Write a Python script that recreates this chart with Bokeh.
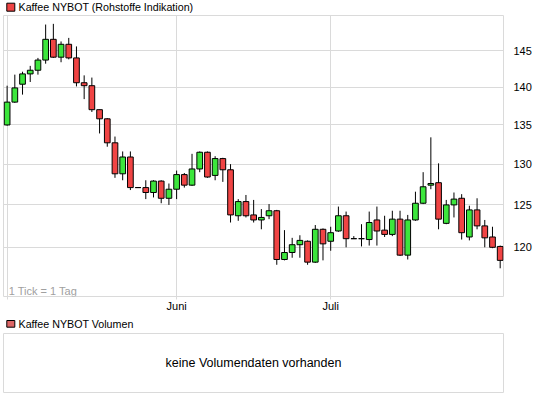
from bokeh.plotting import figure
from bokeh.layouts import column
from bokeh.models import (ColumnDataSource, FixedTicker, Label, BoxAnnotation,
                          NumeralTickFormatter, Range1d)
from bokeh.embed import file_html
from bokeh.resources import INLINE

# ---- data ----
opens = [135.0, 138.0, 140.4, 141.8, 142.3, 143.7, 146.6, 144.1, 145.9, 144.0,
         140.6, 140.2, 137.0, 135.8, 132.7, 128.8, 130.9, 127.1, 127.1, 126.5,
         127.9, 125.8, 126.9, 128.7, 127.4, 129.4, 131.5, 128.6, 130.7, 129.3,
         123.7, 125.4, 123.8, 123.2, 123.7, 124.3, 118.6, 119.4, 120.3, 120.7,
         118.3, 122.1, 120.7, 121.9, 123.7, 121.0, 121.0, 120.9, 123.2, 122.0,
         121.5, 123.3, 119.1, 123.2, 125.2, 127.4, 127.7, 122.8, 125.0, 125.8,
         121.2, 124.4, 122.5, 121.2, 120.1]
highs = [140.2, 141.7, 142.1, 142.9, 144.0, 148.7, 148.8, 146.3, 146.8, 145.6,
         141.6, 141.3, 137.0, 135.9, 133.5, 131.6, 131.6, 127.1, 128.0, 128.0,
         128.0, 127.6, 129.2, 128.9, 131.3, 131.6, 131.6, 131.0, 130.8, 130.0,
         125.7, 126.2, 125.6, 124.5, 125.1, 124.4, 122.0, 121.1, 121.4, 120.8,
         122.6, 122.2, 122.4, 124.8, 124.2, 121.3, 122.7, 124.2, 124.8, 123.7,
         124.3, 124.3, 123.8, 126.6, 129.0, 133.4, 130.1, 125.6, 126.5, 126.3,
         124.9, 125.8, 123.2, 122.4, 120.2]
lows = [134.9, 137.9, 139.0, 140.7, 141.7, 143.2, 144.0, 143.4, 143.8, 140.1,
        138.4, 136.7, 133.9, 132.2, 128.3, 128.0, 126.8, 127.1, 125.7, 125.9,
        125.2, 125.0, 125.7, 127.1, 127.3, 129.0, 128.3, 128.0, 127.8, 122.9,
        123.1, 123.5, 122.9, 122.1, 123.3, 118.0, 118.5, 118.8, 118.8, 118.0,
        118.2, 118.5, 119.6, 121.8, 120.0, 121.0, 120.1, 120.2, 120.2, 121.2,
        121.3, 119.0, 118.6, 123.1, 125.1, 126.9, 122.1, 122.7, 123.5, 120.9,
        120.8, 122.1, 120.0, 119.9, 117.6]
closes = [138.0, 139.9, 141.8, 142.3, 143.7, 146.6, 144.1, 145.9, 144.0, 140.6,
          140.2, 137.0, 135.8, 132.7, 128.8, 130.9, 127.1, 127.1, 126.5, 127.9,
          125.8, 126.9, 128.7, 127.4, 129.4, 131.5, 128.4, 130.7, 129.3, 123.8,
          125.4, 123.7, 123.2, 123.5, 124.3, 118.6, 119.4, 120.3, 120.8, 118.3,
          122.1, 120.4, 121.7, 123.7, 121.0, 121.0, 121.0, 122.9, 121.9, 121.5,
          123.3, 119.1, 123.2, 125.2, 127.2, 127.6, 123.3, 125.0, 125.7, 121.7,
          124.4, 122.5, 121.1, 120.0, 118.5]
month_ticks = [0, 22, 42]
month_labels = ["", "Juni", "Juli"]
y_ticks = [120, 125, 130, 135, 140, 145]
series_name = "Kaffee NYBOT (Rohstoffe Indikation)"
volume_name = "Kaffee NYBOT Volumen"
tick_note = "1 Tick = 1 Tag"
no_volume = "keine Volumendaten vorhanden"

GREEN = "#3ce63c"
RED = "#f04444"
VOLRED = "#dd6666"
GRID = "#dadada"
FONT = "Liberation Sans"
W = 540


def header(height, swatch_color, text, sw_bottom, sw_top, text_y):
    h = figure(width=W, height=height, x_range=Range1d(0, 1), y_range=Range1d(0, 1),
               x_axis_location=None, y_axis_location=None,
               output_backend="svg", toolbar_location=None, min_border=0)
    h.outline_line_color = None
    h.grid.visible = False
    h.add_layout(BoxAnnotation(left=3.3, right=11.3, bottom=sw_bottom, top=sw_top,
                               left_units="screen", right_units="screen",
                               top_units="screen", bottom_units="screen",
                               fill_color=swatch_color, fill_alpha=1,
                               line_color="black", line_width=1, line_alpha=1))
    h.add_layout(Label(x=15, y=text_y, x_units="screen", y_units="screen",
                       text=text, text_font=FONT, text_font_size="10.7px",
                       text_baseline="middle", text_color="black"))
    return h


idx = list(range(len(opens)))
src = ColumnDataSource(dict(
    x=idx, o=opens, h=highs, l=lows, c=closes,
    top=[max(a, b) for a, b in zip(opens, closes)],
    bot=[min(a, b) for a, b in zip(opens, closes)],
    color=[GREEN if c > o else RED for o, c in zip(opens, closes)],
))

head1 = header(14, RED, series_name, 3.3, 11.3, 7.5)

p = figure(width=W, height=302, y_axis_type="log", y_axis_location="right",
           x_range=Range1d(-0.47, 64.43), y_range=Range1d(114.45, 150.0),
           output_backend="svg", toolbar_location=None,
           min_border_left=3, min_border_top=1, min_border_right=37,
           min_border_bottom=20)
p.outline_line_color = GRID
p.background_fill_color = "white"
p.border_fill_color = "white"

p.segment(x0="x", y0="h", x1="x", y1="l", source=src, line_color="black",
          line_width=1)
p.vbar(x="x", top="top", bottom="bot", width=0.74, source=src,
       fill_color="color", line_color="black", line_width=1)

# y axis (right)
p.yaxis.ticker = FixedTicker(ticks=y_ticks)
p.yaxis.formatter = NumeralTickFormatter(format="0")
p.yaxis.axis_line_color = None
p.yaxis.major_tick_line_color = None
p.yaxis.minor_tick_line_color = None
p.yaxis.major_label_standoff = 4
p.yaxis.major_label_text_font = FONT
p.yaxis.major_label_text_font_size = "11px"
p.yaxis.major_label_text_color = "black"

# x axis
p.xaxis.ticker = FixedTicker(ticks=month_ticks)
p.xaxis.major_label_overrides = {t: lab for t, lab in zip(month_ticks, month_labels)}
p.xaxis.axis_line_color = None
p.xaxis.major_tick_line_color = GRID
p.xaxis.major_tick_out = 3
p.xaxis.major_tick_in = 0
p.xaxis.minor_tick_line_color = None
p.xaxis.major_label_standoff = 0
p.xaxis.major_label_text_font = FONT
p.xaxis.major_label_text_font_size = "11px"
p.xaxis.major_label_text_color = "black"

p.grid.grid_line_color = GRID
p.grid.grid_line_width = 1

p.add_layout(Label(x=5.3, y=5.3, x_units="screen", y_units="screen",
                   text=tick_note, text_font=FONT, text_font_size="11px",
                   text_baseline="middle", text_color="#a0a0a0"))

head2 = header(15, VOLRED, volume_name, 4.3, 11.0, 7.5)

# volume panel
p2 = figure(width=W, height=65, x_range=Range1d(0, 1), y_range=Range1d(0, 1),
            x_axis_location=None, y_axis_location=None,
            output_backend="svg", toolbar_location=None,
            min_border_left=3, min_border_top=2, min_border_right=37,
            min_border_bottom=4)
p2.outline_line_color = GRID
p2.grid.visible = False
p2.add_layout(Label(x=0.5, y=0.5, text=no_volume,
                    text_font=FONT, text_font_size="12.5px", text_align="center",
                    text_baseline="middle", text_color="black"))

layout = column(head1, p, head2, p2, spacing=0)

open("out.html", "w").write(file_html(layout, INLINE))
